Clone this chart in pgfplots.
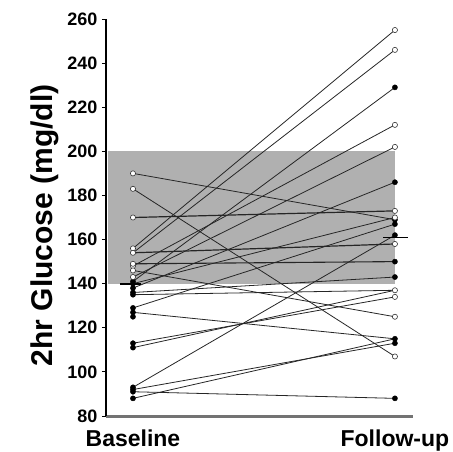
\documentclass[border=0pt]{standalone}
\usepackage{pgfplots}
\pgfplotsset{compat=1.18}
\usepackage{fontspec}
\setmainfont{Liberation Sans}
\definecolor{boxgray}{RGB}{176,176,176}
\begin{document}
\begin{tikzpicture}
\begin{axis}[
  scale only axis,
  width=307pt, height=397pt,
  xmin=-0.103, xmax=1.069,
  ymin=80, ymax=260,
  axis lines=left,
  axis line style={-},
  x axis line style={draw=black!55, line width=3pt},
  y axis line style={black, line width=1.2pt},
  ytick={80,100,...,260},
  xtick={0,1},
  xticklabels={Baseline,Follow-up},
  xtick style={draw=none},
  ytick style={black, line width=0.8pt},
  tick align=outside,
  major tick length=4pt,
  /pgf/number format/assume math mode=true,
  yticklabel style={font=\fontsize{18}{20}\selectfont\bfseries, xshift=-1pt},
  xticklabel style={font=\fontsize{23}{25}\selectfont\bfseries, yshift=-6pt},
  ylabel={\fontsize{30}{32}\selectfont\bfseries 2hr Glucose (mg/dl)},
  every axis y label/.style={at={(ticklabel cs:0.48)}, rotate=90, anchor=south, yshift=2pt},
  clip=false,
]
\coordinate (sw) at (rel axis cs:0,0);
% reference range box
\addplot[draw=none, fill=boxgray] coordinates {(-0.095,140) (1,140) (1,200) (-0.095,200)} -- cycle;

% paired lines baseline -> follow-up
\pgfplotsset{pair/.style={black!85, line width=0.8pt, no marks}}
\addplot[pair] coordinates {(0,190) (1,169)};
\addplot[pair] coordinates {(0,183) (1,107)};
\addplot[pair, line width=1.2pt] coordinates {(0,170) (1,173)};
\addplot[pair] coordinates {(0,156) (1,255)};
\addplot[pair] coordinates {(0,154) (1,246)};
\addplot[pair, line width=1.2pt] coordinates {(0,154) (1,158)};
\addplot[pair] coordinates {(0,148) (1,212)};
\addplot[pair] coordinates {(0,143) (1,202)};
\addplot[pair] coordinates {(0,141) (1,229)};
\addplot[pair, line width=1.1pt] coordinates {(0,149) (1,150)};
\addplot[pair] coordinates {(0,138) (1,186)};
\addplot[pair] coordinates {(0,146) (1,125)};
\addplot[pair] coordinates {(0,136) (1,143)};
\addplot[pair] coordinates {(0,129) (1,167)};
\addplot[pair] coordinates {(0,127) (1,115)};
\addplot[pair] coordinates {(0,135) (1,137)};
\addplot[pair] coordinates {(0,113) (1,134)};
\addplot[pair] coordinates {(0,111) (1,137)};
\addplot[pair] coordinates {(0,93) (1,162)};
\addplot[pair] coordinates {(0,92) (1,113)};
\addplot[pair] coordinates {(0,91) (1,88)};
\addplot[pair] coordinates {(0,88) (1,115)};
\addplot[pair] coordinates {(0,140) (1,170)};

% means
\addplot[black, line width=2pt, no marks] coordinates {(-0.05,140) (0.03,140)};
\addplot[black, line width=1.6pt, no marks] coordinates {(0.955,161) (1.05,161)};

% filled points
\addplot[only marks, mark=*, mark size=2.6pt, black] coordinates {
  (0,141) (0,138) (0,136) (0,135) (0,129) (0,127) (0,125) (0,113) (0,111)
  (0,93) (0,92) (0,91) (0,88) (0,140)
  (1,229) (1,186) (1,169) (1,167) (1,162) (1,150) (1,143) (1,115) (1,113) (1,88)
};
% open points
\addplot[only marks, mark=*, mark size=2.6pt, draw=black!80, fill=white, line width=0.6pt] coordinates {
  (0,190) (0,183) (0,170) (0,156) (0,154) (0,148) (0,143) (0,146) (0,149)
  (1,255) (1,246) (1,212) (1,202) (1,173) (1,170) (1,158) (1,137) (1,134) (1,125) (1,107)
};
\end{axis}
\pgfresetboundingbox
\path (sw) ++(-106pt,-35pt) rectangle ++(453pt,451pt);
\end{tikzpicture}
\end{document}
